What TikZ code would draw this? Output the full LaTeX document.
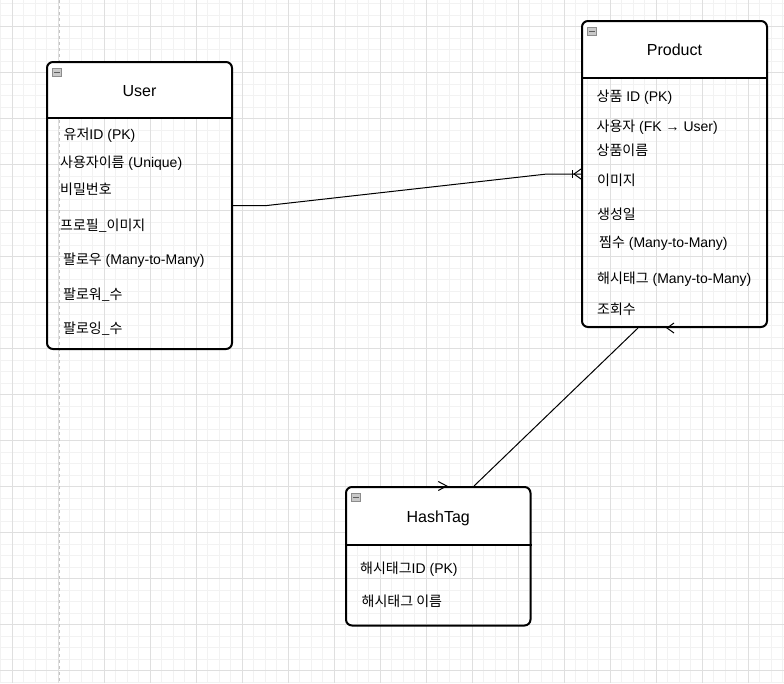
\documentclass[tikz,border=0pt]{standalone}
\usepackage{fontspec}
\setmainfont{Liberation Sans}
\newfontfamily\kr{Noto Sans CJK KR}
\definecolor{minorgrid}{HTML}{F2F2F2}
\definecolor{majorgrid}{HTML}{DFDFDF}
\definecolor{dashgray}{HTML}{C4C4C4}
\definecolor{iconfill}{HTML}{C9C9C9}
\definecolor{iconedge}{HTML}{8C8C8C}
\definecolor{iconbar}{HTML}{5E5E5E}
\newcommand\collapseicon[1]{%
  \begin{scope}[shift={(#1)}]
    \draw[draw=iconedge, fill=iconfill, line width=0.8pt] (5.5,6.5) rectangle (14.5,14.5);
    \fill[iconbar] (7,9.6) rectangle (13,11.4);
  \end{scope}}
\begin{document}
\begin{tikzpicture}[x=1pt,y=-1pt,
  entity/.style={draw=black, line width=2pt, rounded corners=6pt, inner sep=0pt},
  headfill/.style={fill=white},
  sepline/.style={draw=black, line width=2pt},
  title/.style={font=\fontsize{16}{18}\selectfont, inner sep=0pt, text height=11.5pt, text depth=0pt},
  attr/.style={font=\fontsize{14}{16}\selectfont, anchor=west, inner sep=0pt, text height=11pt, text depth=1pt},
  conn/.style={draw=black, line width=1pt},
  ermark/.style={draw=black, line width=1pt},
  mg/.style={draw=minorgrid, line width=0.8pt},
  Mg/.style={draw=majorgrid, line width=1pt}]
\useasboundingbox (0,0) rectangle (784,683);
\fill[white] (0,0) rectangle (784,683);
% grid
\foreach \i in {-1,...,67} {\draw[mg] ({12+11.5*\i},0) -- ({12+11.5*\i},683);}
\foreach \j in {-3,...,57} {\draw[mg] (0,{26.7+11.5*\j}) -- (784,{26.7+11.5*\j});}
\foreach \i in {0,...,16} {\draw[Mg] ({12+46*\i},0) -- ({12+46*\i},683);}
\foreach \j in {-1,...,14} {\draw[Mg] (0,{26.7+46*\j}) -- (784,{26.7+46*\j});}
\draw[dashgray, line width=1pt, dash pattern=on 3pt off 3pt] (59.3,0) -- (59.3,683);

% headers (white fill)
\fill[headfill, rounded corners=5pt] (48,118) -- (48,63) -- (231,63) -- (231,118) -- cycle;
\fill[headfill, rounded corners=5pt] (583,78) -- (583,22) -- (766,22) -- (766,78) -- cycle;
\fill[headfill, rounded corners=5pt] (347,545) -- (347,488) -- (529.5,488) -- (529.5,545) -- cycle;
\fill[white] (48,108) rectangle (231,118);
\fill[white] (583,68) rectangle (766,78);
\fill[white] (347,535) rectangle (529.5,545);

% entities
\node[entity, minimum width=185pt, minimum height=287pt] (user) at (139.5,205.5) {};
\node[entity, minimum width=185pt, minimum height=306pt] (product) at (674.5,174) {};
\node[entity, minimum width=184.5pt, minimum height=138.5pt] (hashtag) at (438.25,556.25) {};

\draw[sepline] (user.west |- 0,118) -- (user.east |- 0,118);
\draw[sepline] (product.west |- 0,78) -- (product.east |- 0,78);
\draw[sepline] (hashtag.west |- 0,545) -- (hashtag.east |- 0,545);

\collapseicon{47,62}
\collapseicon{582,21}
\collapseicon{346,487}

% titles
\node[title] (tuser) at (139.5,91) {User};
\node[title] (tproduct) at (674.5,50) {Product};
\node[title] (thash) at (438.25,516.5) {HashTag};

% user attributes
\node[attr] (u1) at (63.5,134.5) {{\kr 유저}ID (PK)};
\node[attr] (u2) at (60,162.5) {{\kr 사용자이름} (Unique)};
\node[attr] (u3) at (60,189.5) {{\kr 비밀번호}};
\node[attr] (u4) at (60,225) {{\kr 프로필\_이미지}};
\node[attr] (u5) at (63,259.5) {{\kr 팔로우} (Many-to-Many)};
\node[attr] (u6) at (63,294.5) {{\kr 팔로워\_수}};
\node[attr] (u7) at (63,328) {{\kr 팔로잉\_수}};

% product attributes
\node[attr] (p1) at (596.5,96.5) {{\kr 상품} ID (PK)};
\node[attr] (p2) at (596.5,126.5) {{\kr 사용자} (FK → User)};
\node[attr] (p3) at (596.5,150.5) {{\kr 상품이름}};
\node[attr] (p4) at (597,180) {{\kr 이미지}};
\node[attr] (p5) at (597,214.5) {{\kr 생성일}};
\node[attr] (p6) at (599,242) {{\kr 찜수} (Many-to-Many)};
\node[attr] (p7) at (597,278.5) {{\kr 해시태그} (Many-to-Many)};
\node[attr] (p8) at (597,309) {{\kr 조회수}};

% hashtag attributes
\node[attr] (h1) at (360,568) {{\kr 해시태그}ID (PK)};
\node[attr] (h2) at (361.5,601.5) {{\kr 해시태그 이름}};

% connector user -> product
\draw[conn] (user.east) -- ++(34,0) -- ([xshift=-34pt]product.west) -- (product.west);
\draw[ermark] ([xshift=-9pt,yshift=-4pt]product.west) -- ([xshift=-9pt,yshift=4pt]product.west);
\draw[ermark] ([yshift=5pt]product.west) -- ([xshift=-7pt]product.west) -- ([yshift=-5pt]product.west);

% connector product -> hashtag
\coordinate (pb) at ([xshift=-36.5pt]product.south);
\coordinate (ht) at ([xshift=35.75pt]hashtag.north);
\draw[conn] (pb) -- (ht);
\draw[ermark] ([xshift=-0.5pt,yshift=5pt]product.south) -- ([xshift=-7.5pt]product.south) -- ([xshift=-0.5pt,yshift=-5pt]product.south);
\draw[ermark] ([yshift=4.5pt]hashtag.north) -- ([xshift=8.5pt]hashtag.north) -- ([yshift=-4.5pt]hashtag.north);
\end{tikzpicture}
\end{document}
